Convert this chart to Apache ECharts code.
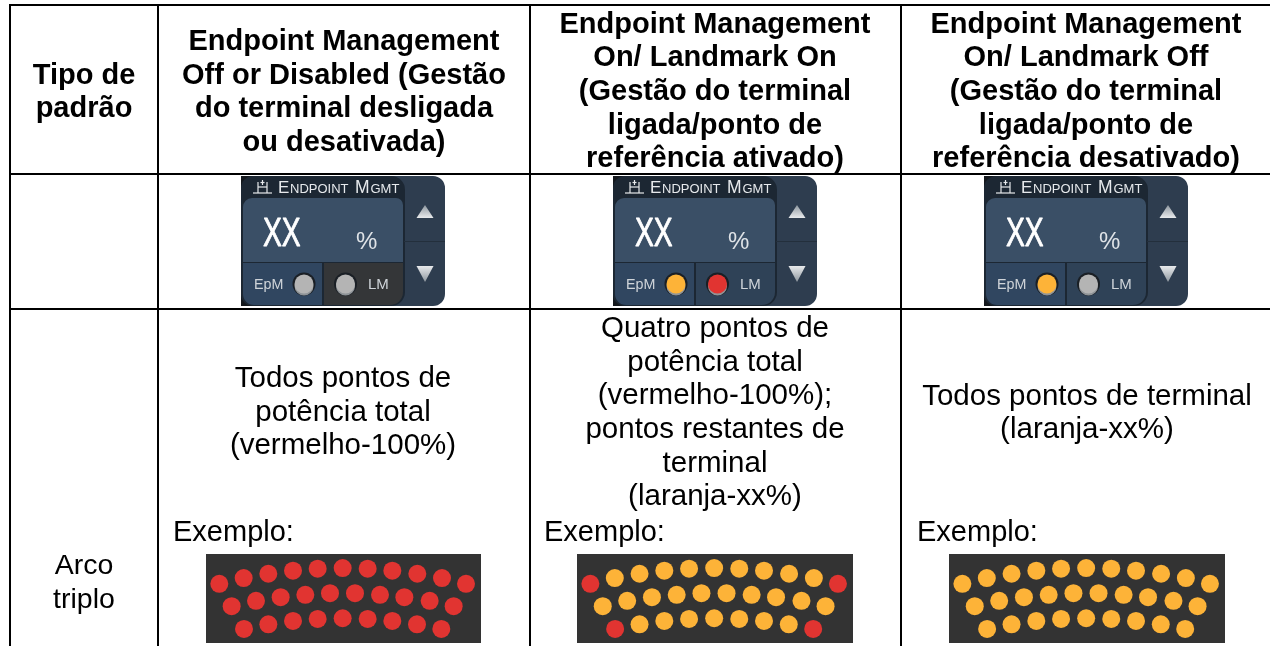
<!DOCTYPE html>
<html><head><meta charset="utf-8">
<style>html,body{margin:0;padding:0;background:#fff}#c{width:1270px;height:646px}</style>
<script src="https://cdn.jsdelivr.net/npm/echarts@6/dist/echarts.min.js"></script>
</head><body><div id="c"></div>
<script>
// Dot positions, in panel units (0..825 wide, 0..266 tall)
const dotX = [40,113,187,261,335,410,485,559,634,708,780, 77,150,224,298,372,447,522,595,671,743, 114,187,261,335,410,485,559,633,706];
const dotY = [89,72,59,50,44,42,44,50,59,72,89, 156,140,129,122,117,117,122,129,140,156, 224,210,200,194,192,194,200,210,224];
// Dot state per position: r = full power, o = endpoint
const stateAllRed = 'rrrrrrrrrrr' + 'rrrrrrrrrr' + 'rrrrrrrrr';
const stateCorners = 'rooooooooor' + 'oooooooooo' + 'rooooooor';
const stateAllOrange = 'ooooooooooo' + 'oooooooooo' + 'ooooooooo';
const headers = [
  'Tipo de\npadrão',
  'Endpoint Management\nOff or Disabled (Gestão\ndo terminal desligada\nou desativada)',
  'Endpoint Management\nOn/ Landmark On\n(Gestão do terminal\nligada/ponto de\nreferência ativado)',
  'Endpoint Management\nOn/ Landmark Off\n(Gestão do terminal\nligada/ponto de\nreferência desativado)'
];
const descriptions = [
  'Todos pontos de\npotência total\n(vermelho-100%)',
  'Quatro pontos de\npotência total\n(vermelho-100%);\npontos restantes de\nterminal\n(laranja-xx%)',
  'Todos pontos de terminal\n(laranja-xx%)'
];
const exampleLabel = 'Exemplo:';
const rowLabel = 'Arco\ntriplo';

const RED='#e13431', ORANGE='#fdb338', GREY='#b4b4b4';
const FONT='"Liberation Sans", Arial, sans-serif';
const colX=[10,158,530,901], rowY=[5,174,309];
const panels=[{x:206,w:275,s:stateAllRed},{x:577,w:276,s:stateCorners},{x:949,w:276,s:stateAllOrange}];
const PY=554,PH=89;

const g=[];
const line=(x1,y1,x2,y2)=>g.push({type:'line',z:50,shape:{x1,y1,x2,y2},style:{stroke:'#000',lineWidth:2}});
colX.forEach(x=>line(x,4,x,646));
rowY.forEach(y=>line(9,y,1270,y));
const text=(x,y,t,o={})=>g.push({type:'text',z:40,x,y,style:Object.assign({text:t,font:`29px ${FONT}`,fill:'#000',align:'center',verticalAlign:'middle',lineHeight:33.6},o)});

// Header text
const BOLD=`bold 29px ${FONT}`, BODY=`29.5px ${FONT}`;
text(84,92.5,headers[0],{font:BOLD});
text(344,92.5,headers[1],{font:BOLD});
text(715,92,headers[2],{font:BOLD});
text(1086,92,headers[3],{font:BOLD});
// Body text
text(343,412.5,descriptions[0],{font:BODY});
text(715,413,descriptions[1],{font:BODY});
text(1087,413.5,descriptions[2],{font:BODY});
[173,544,917].forEach(x=>text(x,533,exampleLabel,{align:'left'}));
text(84,583,rowLabel,{font:`28.5px ${FONT}`});

// Widgets
function widget(o,ep,lm,lmDark){
  const r=(x,y,w,h,fill,rad,z)=>g.push({type:'rect',z:z||10,shape:{x:x+o,y,width:w,height:h,r:rad||0},style:{fill}});
  r(241,176,204,130,'#2e3d4f',[10,12,12,10],10);
  r(241,176,20,20,'#14181d',0,10);
  r(241,286,20,20,'#14181d',0,10);
  r(241,176,164,130,'#1c2733',[12,14,14,12],11);
  r(243,198,160,64,'#3a4f66',[9,7,0,0],12);
  r(243,263,79,42,'#304660',[0,0,0,11],12);
  r(324,263,79,42,lmDark?'#343638':'#2f4257',[0,0,13,0],12);
  r(404,241,41,1,'#232f3c',0,12);
  const sm=(x,y,t,f,fill,extra,st)=>g.push(Object.assign({type:'text',z:15,x:x+o,y,style:Object.assign({text:t,font:f,fill:fill||'#e6e9ec',align:'left',verticalAlign:'middle'},st||{})},extra||{}));
  sm(278,188,'E',`17px ${FONT}`); sm(290,189,'NDPOINT',`13px ${FONT}`);
  sm(355,188,'M',`17.5px ${FONT}`); sm(370.5,189,'GMT',`13px ${FONT}`);
  // header icon
  const ic=(pts)=>g.push({type:'polyline',z:15,shape:{points:pts.map(p=>[p[0]+o,p[1]])},style:{stroke:'#e6e9ec',lineWidth:1.2,fill:null}});
  ic([[253,193],[272,193]]); ic([[258,193],[258,182]]); ic([[267,193],[267,182]]);
  ic([[258,187],[267,187]]); ic([[262.5,180],[262.5,185]]); ic([[260.5,182.5],[264.5,182.5]]);
  sm(263,235,'XX',`41px ${FONT}`,'#ffffff',{scaleX:0.69,originX:0},{stroke:'#ffffff',lineWidth:0.9});
  sm(356,242,'%',`24px ${FONT}`,'#dfe3e7');
  sm(254,285,'EpM',`14.3px ${FONT}`,'#cfd4d9');
  sm(368,285,'LM',`15px ${FONT}`,'#cfd4d9');
  const led=(x,fill)=>{
    g.push({type:'circle',z:13,shape:{cx:x+o,cy:284,r:11.5},style:{fill:'#1a1f25'}});
    g.push({type:'circle',z:14,shape:{cx:x+o,cy:286,r:9.5},style:{fill:'#8f9498'}});
    g.push({type:'circle',z:14,shape:{cx:x+o,cy:284,r:9.5},style:{fill}});
  };
  led(304,ep); led(345.5,lm);
  const tri=(cx,y1,y2,c1,c2)=>g.push({type:'polygon',z:14,shape:{points:[[cx+o-8.5,y2],[cx+o+8.5,y2],[cx+o,y1]]},style:{fill:new echarts.graphic.LinearGradient(0,0,0,1,[{offset:0,color:c1},{offset:1,color:c2}])}});
  tri(425,205,218,'#8e979f','#e8eaec');
  tri(425,282,266,'#e8eaec','#8e979f');
}
widget(0,GREY,GREY,true);
widget(372,ORANGE,RED,false);
widget(743,ORANGE,GREY,false);

const grids=[],xAxes=[],yAxes=[],series=[];
panels.forEach((p,i)=>{
  grids.push({show:true,left:p.x,top:PY,width:p.w,height:PH,backgroundColor:'#333333',borderWidth:0});
  xAxes.push({type:'value',gridIndex:i,min:0,max:825,show:false});
  yAxes.push({type:'value',gridIndex:i,min:0,max:266,inverse:true,show:false});
  series.push({type:'scatter',xAxisIndex:i,yAxisIndex:i,symbolSize:18,silent:true,
    data:dotX.map((x,k)=>({value:[x,dotY[k]],itemStyle:{color:p.s[k]==='r'?RED:ORANGE,opacity:1}}))});
});
const chart=echarts.init(document.getElementById('c'),null,{renderer:'canvas'});
chart.setOption({animation:false,backgroundColor:'#fff',grid:grids,xAxis:xAxes,yAxis:yAxes,series,graphic:{elements:g}});
</script></body></html>
